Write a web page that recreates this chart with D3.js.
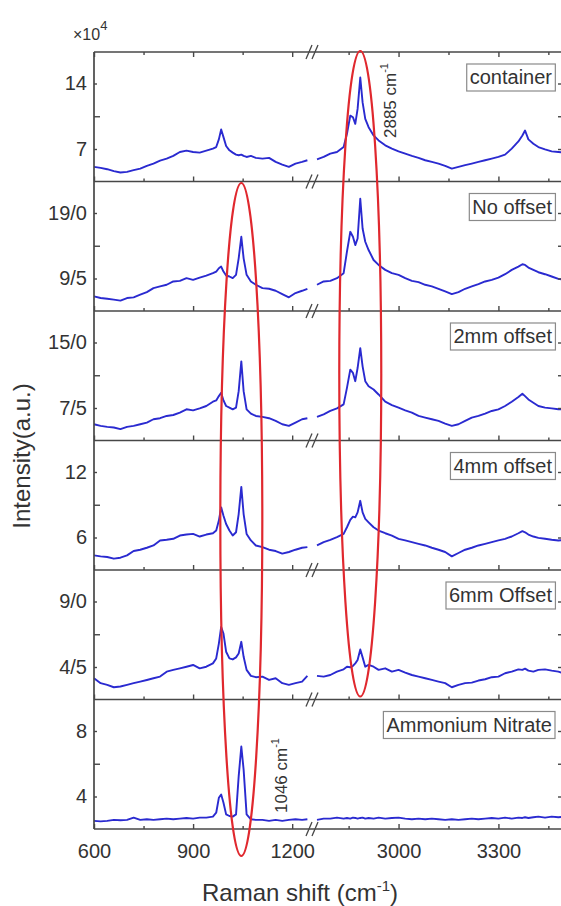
<!DOCTYPE html>
<html><head><meta charset="utf-8">
<script src="https://cdn.jsdelivr.net/npm/d3@7"></script>
<style>
body{margin:0;background:#fff}
svg{display:block}
text{font-family:Arial,"Liberation Sans",sans-serif;fill:#333}
</style>
</head><body>
<svg id="c" width="561" height="906"></svg>
<script>
// ---------- data ----------
const panelNames = ["container","No offset","2mm offset","4mm offset","6mm Offset","Ammonium Nitrate"];
const lowTicks = [7, 9.5, 7.5, 6, 4.5, 4];
const highTicks = [14, 19, 15, 12, 9, 8];
const lowLabels = ["7","9/5","7/5","6","4/5","4"];
const highLabels = ["14","19/0","15/0","12","9/0","8"];
const xMajor = [600, 900, 1200, 3000, 3300];
const xMinor = [750, 1050, 2850, 3150, 3450];
const xTickLabels = ["600","900","1200","3000","3300"];
const peakPositions = [1046, 2885];
const peakLabels = ["1046 cm", "2885 cm"];

const leftX = [600,620,640,660,680,700,720,740,760,780,800,820,840,860,880,900,920,940,960,970,
  978,985,992,1000,1010,1020,1030,1038,1046,1053,1062,1075,1090,1110,1130,1150,1170,1190,1210,1230,1246];
const rightX = [2755,2775,2795,2815,2835,2845,2855,2863,2870,2877,2885,2892,2900,2910,2925,2940,2960,2980,3000,3020,
  3040,3060,3080,3100,3120,3140,3160,3180,3200,3220,3240,3260,3280,3300,3320,3340,3360,3372,3380,3390,
  3405,3420,3440,3460,3480,3500];

const containerL = [5.09,4.98,4.84,4.63,4.49,4.56,4.74,4.91,5.20,5.44,5.76,5.97,6.26,6.68,6.82,6.68,6.61,6.82,7.04,7.21,
  8.03,9.09,8.27,7.32,6.86,6.61,6.40,6.33,6.40,6.26,6.15,6.26,6.05,5.97,6.05,5.62,5.34,5.09,5.44,5.62,5.80];
const containerR = [5.90,6.15,6.51,6.68,7.21,8.63,10.57,10.39,9.69,11.28,14.64,11.98,10.22,9.33,8.45,7.92,7.39,7.04,6.75,6.51,
  6.26,6.05,5.80,5.62,5.44,5.20,4.91,5.09,5.27,5.44,5.62,5.80,5.97,6.15,6.40,7.04,7.81,8.45,8.98,8.03,
  7.57,7.21,6.96,6.75,6.68,6.61];
const noOffsetL = [6.91,6.67,6.57,6.43,6.29,6.67,6.77,7.15,7.53,8.11,8.35,8.59,9.07,9.16,9.55,9.31,9.64,9.93,10.27,10.51,
  10.99,11.23,10.51,9.93,9.79,9.55,10.03,12.43,15.55,12.43,10.03,9.07,8.59,8.11,8.01,7.72,7.24,6.77,7.39,7.72,8.01];
const noOffsetR = [8.59,9.07,9.16,9.55,10.27,13.39,16.27,15.55,14.35,15.31,21.06,16.75,14.83,13.63,12.19,11.47,10.75,10.27,10.03,9.55,
  9.16,8.97,8.59,8.35,8.01,7.63,7.24,7.53,8.01,8.35,8.68,9.07,9.31,9.64,10.12,10.75,11.23,11.56,11.47,11.08,
  10.75,10.41,10.12,9.79,9.45,9.31];
const offset2L = [5.64,5.45,5.34,5.27,5.08,5.34,5.45,5.64,5.83,6.21,6.33,6.59,6.70,6.97,7.35,7.23,7.46,7.73,8.22,8.37,
  8.86,9.24,8.37,7.73,7.54,7.35,7.54,9.43,12.84,9.43,7.35,6.86,6.59,6.48,6.33,6.02,5.64,5.45,5.83,6.21,6.33];
const offset2R = [6.48,6.78,7.16,7.46,7.92,9.81,11.89,11.52,10.57,12.08,14.36,12.27,10.57,10.00,9.62,9.05,8.22,7.84,7.54,7.23,
  6.97,6.59,6.40,6.21,6.02,5.72,5.45,5.64,6.02,6.40,6.59,6.86,7.16,7.35,7.73,8.22,8.75,9.13,8.86,8.48,
  8.11,7.73,7.54,7.46,7.35,7.35];
const offset4L = [4.36,4.27,4.21,4.06,4.15,4.36,4.76,4.88,5.06,5.27,5.73,5.79,5.88,6.18,6.27,6.33,6.09,6.27,6.39,6.64,
  7.55,8.76,8.00,7.24,6.64,6.18,6.48,8.15,10.64,8.15,6.33,5.73,5.27,5.12,4.88,4.76,4.52,4.67,4.88,5.06,5.12];
const offset4R = [5.27,5.58,5.79,6.03,6.33,6.94,7.61,7.91,7.85,8.30,9.36,8.30,7.70,7.39,6.94,6.64,6.39,6.18,5.88,5.73,
  5.58,5.42,5.27,5.06,4.88,4.67,4.27,4.58,4.88,5.06,5.27,5.42,5.58,5.73,5.88,6.09,6.39,6.58,6.48,6.27,
  6.09,5.97,5.88,5.79,5.73,5.79];
const offset6L = [3.73,3.39,3.27,3.11,3.16,3.27,3.39,3.50,3.61,3.73,3.84,4.18,4.30,4.41,4.52,4.64,4.41,4.52,4.75,5.09,
  6.11,7.25,6.80,5.55,5.09,5.02,5.16,5.43,6.23,5.20,4.30,3.89,3.80,3.84,3.61,3.73,3.39,3.27,3.39,3.50,3.89];
const offset6R = [3.89,3.84,3.95,4.18,4.34,4.52,4.48,4.57,4.75,4.98,5.70,5.16,4.52,4.64,4.52,4.30,4.41,4.18,4.30,4.11,
  3.95,3.84,3.73,3.61,3.50,3.39,3.11,3.27,3.39,3.43,3.57,3.66,3.80,3.84,4.07,4.18,4.34,4.30,4.39,4.25,
  4.18,4.30,4.34,4.25,4.18,4.02];
const nitrateL = [2.51,2.48,2.51,2.57,2.55,2.57,2.71,2.57,2.61,2.57,2.61,2.65,2.61,2.65,2.69,2.65,2.71,2.71,2.77,3.01,
  3.92,4.12,3.62,2.91,2.81,2.77,2.91,5.23,7.05,5.64,2.91,2.61,2.57,2.57,2.51,2.57,2.51,2.57,2.61,2.57,2.61];
const nitrateR = [2.57,2.65,2.65,2.71,2.65,2.69,2.65,2.71,2.69,2.65,2.69,2.71,2.65,2.69,2.65,2.71,2.65,2.69,2.71,2.65,
  2.61,2.65,2.61,2.65,2.61,2.57,2.61,2.57,2.61,2.65,2.61,2.65,2.69,2.65,2.71,2.65,2.71,2.69,2.73,2.69,
  2.73,2.77,2.71,2.77,2.73,2.77];

const seriesLeft = [containerL, noOffsetL, offset2L, offset4L, offset6L, nitrateL];
const seriesRight = [containerR, noOffsetR, offset2R, offset4R, offset6R, nitrateR];

// ---------- layout ----------
const svg = d3.select("#c");
const plotL = 94, plotR = 563, plotT = 52, panelH = 129.5;
const breakPx = 312;
const frameColor = "#474747";
const lineColor = "#2a2ad0";
const red = "#e0282e";

const x = d3.scaleLinear().domain([600, 1260, 2740, 3494]).range([plotL, breakPx, breakPx, plotR]);

const panels = panelNames.map((name, i) => {
  const top = plotT + i * panelH;
  const a = lowTicks[i];
  const y = d3.scaleLinear()
    .domain([a - a * 32.5 / 65.5, highTicks[i] + a * 31.5 / 65.5])
    .range([top + panelH, top]);
  return {name, top, y, i};
});

const line = (y) => d3.line().x(d => x(d[0])).y(d => y(d[1]));

// curves
panels.forEach(p => {
  const g = svg.append("g");
  [[leftX, seriesLeft[p.i]], [rightX, seriesRight[p.i]]].forEach(([xs, ys]) => {
    g.append("path")
      .datum(xs.map((v, k) => [v, ys[k]]))
      .attr("d", line(p.y))
      .attr("fill", "none")
      .attr("stroke", lineColor)
      .attr("stroke-width", 1.9)
      .attr("stroke-linejoin", "round");
  });
});

// axes per panel
panels.forEach(p => {
  const bottom = p.top + panelH;
  const gb = svg.append("g").attr("transform", `translate(0,${bottom})`);
  gb.call(d3.axisBottom(x).tickValues(xMajor).tickSize(-5).tickPadding(15)
      .tickFormat(p.i === panels.length - 1 ? (d, k) => xTickLabels[k] : ""));
  gb.append("g").call(d3.axisBottom(x).tickValues(xMinor).tickSize(-3).tickFormat(""));
  if (p.i === 0) {
    const gt = svg.append("g").attr("transform", `translate(0,${p.top})`);
    gt.call(d3.axisTop(x).tickValues(xMajor).tickSize(-5).tickFormat(""));
    gt.append("g").call(d3.axisTop(x).tickValues(xMinor).tickSize(-3).tickFormat(""));
  }
  const gl = svg.append("g").attr("transform", `translate(${plotL},0)`);
  gl.call(d3.axisLeft(p.y).tickValues([lowTicks[p.i], highTicks[p.i]]).tickSize(-3).tickPadding(7)
      .tickFormat((d, k) => [lowLabels[p.i], highLabels[p.i]][k]));
  gl.append("g").call(d3.axisLeft(p.y).tickValues([(lowTicks[p.i] + highTicks[p.i]) / 2]).tickSize(-6).tickFormat(""));
  const gr = svg.append("g").attr("transform", `translate(${plotR},0)`);
  gr.call(d3.axisRight(p.y).tickValues([lowTicks[p.i], (lowTicks[p.i] + highTicks[p.i]) / 2, highTicks[p.i]])
      .tickSize(-5).tickFormat(""));
});

svg.selectAll(".domain").remove();
svg.selectAll(".tick line").attr("stroke", frameColor).attr("stroke-width", 1.4);
svg.selectAll(".tick text").style("font-size", "20px").attr("fill", "#333");

// frame
const fr = svg.append("g").attr("stroke", frameColor).attr("stroke-width", 1.7);
fr.append("line").attr("x1", plotL).attr("x2", plotL).attr("y1", plotT).attr("y2", plotT + 6 * panelH);
fr.append("line").attr("x1", plotR).attr("x2", plotR).attr("y1", plotT).attr("y2", plotT + 6 * panelH);
d3.range(7).forEach(k => {
  const yy = plotT + k * panelH;
  fr.append("line").attr("x1", plotL).attr("x2", plotR).attr("y1", yy).attr("y2", yy);
  [309, 315].forEach(cx => {
    fr.append("line").attr("x1", cx - 3).attr("y1", yy + 7).attr("x2", cx + 3).attr("y2", yy - 7)
      .attr("stroke-width", 1.3);
  });
});

// ellipses around peaks
const ellipses = [
  {cx: x(peakPositions[0]), y0: panels[1].top + 1.5, y1: panels[5].top + panelH + 27},
  {cx: x(peakPositions[1]), y0: panels[0].top - 1, y1: panels[4].top + panelH - 3}
];
ellipses.forEach(e => {
  svg.append("ellipse")
    .attr("cx", e.cx).attr("cy", (e.y0 + e.y1) / 2)
    .attr("rx", 21).attr("ry", (e.y1 - e.y0) / 2)
    .attr("fill", "none").attr("stroke", red).attr("stroke-width", 2.2);
});

// panel name boxes
panels.forEach(p => {
  const g = svg.append("g");
  const t = g.append("text").attr("x", 552).attr("y", p.top + 32)
    .attr("text-anchor", "end").style("font-size", "20px").text(p.name);
  const b = t.node().getBBox();
  g.insert("rect", "text")
    .attr("x", b.x - 3).attr("y", p.top + 12).attr("width", b.width + 6).attr("height", 27)
    .attr("fill", "#fff").attr("stroke", "#8a8a8a").attr("stroke-width", 1.2);
});

// peak annotations
function rotLabel(px, py, txt) {
  const t = svg.append("text").attr("transform", `translate(${px},${py}) rotate(-90)`)
    .style("font-size", "17px");
  t.append("tspan").text(txt);
  t.append("tspan").attr("dy", -8).style("font-size", "11px").text("-1");
}
rotLabel(396, 138, peakLabels[1]);
rotLabel(287, 813, peakLabels[0]);

// multiplier
const m = svg.append("text").attr("x", 73).attr("y", 40).style("font-size", "16px");
m.append("tspan").text("\u00d710");
m.append("tspan").attr("dy", -10).style("font-size", "13px").text("4");

// axis titles
svg.append("text").attr("transform", "translate(30,456) rotate(-90)")
  .attr("text-anchor", "middle").style("font-size", "24px").text("Intensity(a.u.)");
const xt = svg.append("text").attr("x", 300).attr("y", 901).attr("text-anchor", "middle").style("font-size", "24px");
xt.append("tspan").text("Raman shift (cm");
xt.append("tspan").attr("dy", -10).style("font-size", "15px").text("-1");
xt.append("tspan").attr("dy", 10).text(")");
</script>
</body></html>
